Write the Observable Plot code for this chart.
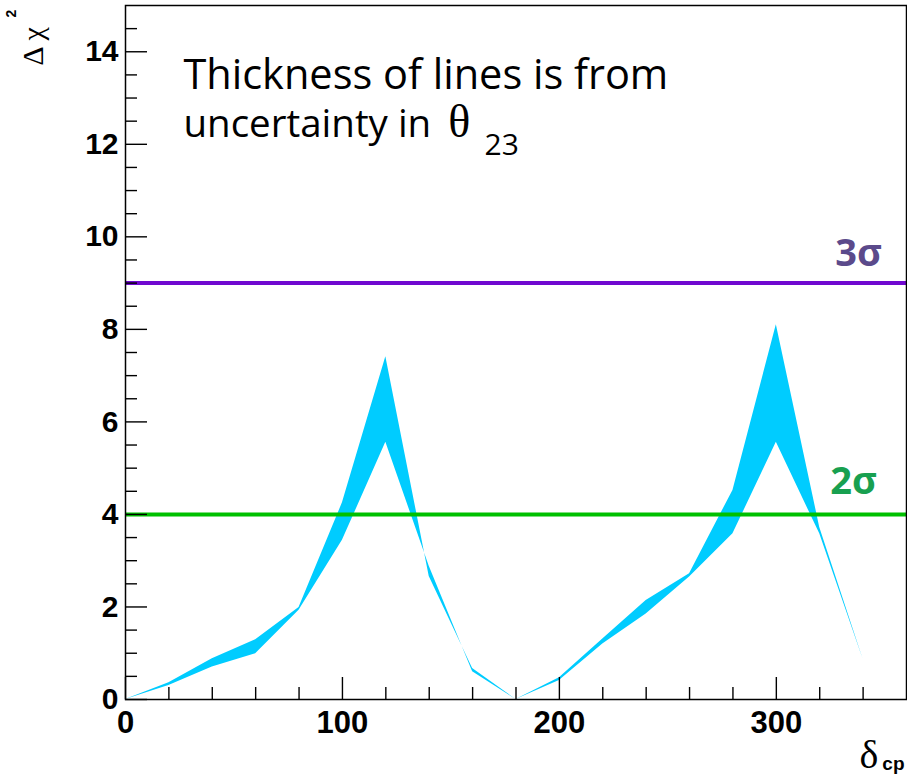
<!DOCTYPE html>
<html>
<head>
<meta charset="utf-8">
<script src="https://cdn.jsdelivr.net/npm/d3@7"></script>
<script src="https://cdn.jsdelivr.net/npm/@observablehq/plot@0.6"></script>
<style>
  html, body { margin: 0; padding: 0; background: #fff; }
  #chart svg { display: block; }
</style>
</head>
<body>
<div id="chart"></div>
<script>
// δcp grid (degrees)
const deltaCP = [0, 20, 40, 60, 80, 100, 120, 140, 160, 180, 200, 220, 240, 260, 280, 300, 320, 340];
// Δχ² band edges (from the two θ23 extremes)
const chi2A = [0, 0.30, 0.70, 0.99, 1.93, 3.44, 5.56, 2.88, 0.60, 0, 0.41, 1.20, 1.85, 2.65, 3.58, 5.56, 3.58, 0.87];
const chi2B = [0, 0.36, 0.88, 1.29, 1.99, 4.25, 7.41, 2.66, 0.67, 0, 0.47, 1.31, 2.14, 2.72, 4.52, 8.10, 3.72, 0.87];

const sigmaLevels = [9, 4];
const sigmaLabels = ["3σ", "2σ"];

const xMajor = [0, 100, 200, 300];
const xMinor = [20, 40, 60, 80, 120, 140, 160, 180, 220, 240, 260, 280, 320, 340];
const yMajor = [0, 2, 4, 6, 8, 10, 12, 14];
const yMinor = [0.5, 1, 1.5, 2.5, 3, 3.5, 4.5, 5, 5.5, 6.5, 7, 7.5, 8.5, 9, 9.5, 10.5, 11, 11.5, 12.5, 13, 13.5, 14.5];

const band = deltaCP.map((d, i) => ({d, a: chi2A[i], b: chi2B[i]}));

const tickFont = "Liberation Sans, Arial, sans-serif";
const noteFont = "Open Sans, sans-serif";
const serif = "Liberation Serif, Times New Roman, serif";

const chart = Plot.plot({
  width: 907,
  height: 778,
  marginLeft: 125,
  marginRight: 1,
  marginTop: 5,
  marginBottom: 79,
  x: {domain: [0, 360], axis: null},
  y: {domain: [0, 15], axis: null},
  style: {background: "#fff", fontFamily: tickFont},
  marks: [
    Plot.areaY(band, {x: "d", y1: "a", y2: "b", fill: "#00ccff", curve: "linear"}),
    Plot.ruleY([sigmaLevels[0]], {stroke: "#7008d0", strokeWidth: 4}),
    Plot.ruleY([sigmaLevels[1]], {stroke: "#00c000", strokeWidth: 4}),
    // inward ticks
    Plot.ruleX(xMajor, {x: d => d, y1: 0, y2: 0, insetTop: -22, stroke: "#000", strokeWidth: 1.4}),
    Plot.ruleX(xMinor, {x: d => d, y1: 0, y2: 0, insetTop: -12, stroke: "#000", strokeWidth: 1.4}),
    Plot.ruleY(yMajor, {y: d => d, x1: 0, x2: 0, insetRight: -22, stroke: "#000", strokeWidth: 1.4}),
    Plot.ruleY(yMinor, {y: d => d, x1: 0, x2: 0, insetRight: -12, stroke: "#000", strokeWidth: 1.4}),
    Plot.frame({stroke: "#000", strokeWidth: 1.5}),
    // tick labels
    Plot.text(xMajor, {x: d => d, frameAnchor: "bottom", dy: 33, lineAnchor: "bottom", text: d => String(d),
      fontFamily: tickFont, fontWeight: "bold", fontSize: 31, fill: "#000"}),
    Plot.text(yMajor, {y: d => d, frameAnchor: "left", dx: -7, textAnchor: "end", text: d => String(d),
      fontFamily: tickFont, fontWeight: "bold", fontSize: 30, fill: "#000"}),
    // axis titles
    Plot.text(["Δ χ"], {x: -37.8, y: 13.70, rotate: -90, textAnchor: "start", lineAnchor: "bottom",
      fontFamily: serif, fontSize: 30, fill: "#000"}),
    Plot.text(["2"], {x: -50.7, y: 14.74, rotate: -90, textAnchor: "start", lineAnchor: "bottom",
      fontFamily: tickFont, fontWeight: "bold", fontSize: 14, fill: "#000"}),
    Plot.text(["δ"], {frameAnchor: "bottom-right", dx: -47, dy: 68, textAnchor: "start", lineAnchor: "bottom",
      fontFamily: serif, fontSize: 40, fill: "#000"}),
    Plot.text(["cp"], {frameAnchor: "bottom-right", dx: -2, dy: 70, textAnchor: "end", lineAnchor: "bottom",
      fontFamily: tickFont, fontWeight: "bold", fontSize: 19, fill: "#000"}),
    // sigma labels
    Plot.text([sigmaLabels[0]], {x: 327.2, y: 9.38, textAnchor: "start", lineAnchor: "bottom",
      fontFamily: noteFont, fontWeight: "bold", fontSize: 38, fill: "#5b4a8b"}),
    Plot.text([sigmaLabels[1]], {x: 324.9, y: 4.45, textAnchor: "start", lineAnchor: "bottom",
      fontFamily: noteFont, fontWeight: "bold", fontSize: 38, fill: "#18a050"}),
    // note
    Plot.text(["Thickness of lines is from"], {x: 26.7, y: 13.2, textAnchor: "start", lineAnchor: "bottom",
      fontFamily: noteFont, fontSize: 41.5, fill: "#000"}),
    Plot.text(["uncertainty in"], {x: 26.7, y: 12.15, textAnchor: "start", lineAnchor: "bottom",
      fontFamily: noteFont, fontSize: 38.5, fill: "#000"}),
    Plot.text(["θ"], {x: 148.8, y: 12.15, textAnchor: "start", lineAnchor: "bottom",
      fontFamily: serif, fontSize: 46, fill: "#000"}),
    Plot.text(["23"], {x: 165.5, y: 11.76, textAnchor: "start", lineAnchor: "bottom",
      fontFamily: noteFont, fontSize: 30, fill: "#000"})
  ]
});
document.getElementById("chart").appendChild(chart);
</script>
</body>
</html>
